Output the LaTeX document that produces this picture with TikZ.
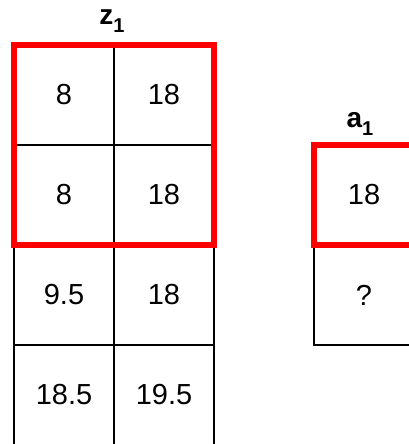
\documentclass[tikz,border=0pt]{standalone}
\usepackage{fontspec}
\setmainfont{Liberation Sans}
\usetikzlibrary{positioning}

\newcommand{\subone}{\raisebox{-8pt}{\fontsize{20}{20}\selectfont 1}}

\begin{document}
\begin{tikzpicture}[x=1pt, y=1pt,
    cell/.style={draw=black, line width=1.6pt, minimum size=100pt,
      inner sep=0pt, outer sep=0pt, font=\fontsize{29}{29}\selectfont},
    hilite/.style={draw=red, line width=6.5pt},
    lbl/.style={font=\fontsize{28}{28}\selectfont\bfseries,
      inner sep=0pt, anchor=base}]
\useasboundingbox (0,0) rectangle (408,444);
%% LEFT: z_1 grid, two columns
\foreach \r/\a/\b in {1/8/18, 2/8/18, 3/9.5/18, 4/18.5/19.5}{
  \node[cell] (z\r1) at (64,{449-100*\r}) {\a};
  \node[cell] (z\r2) at (164,{449-100*\r}) {\b};
}
\draw[hilite] (z11.north west) rectangle (z22.south east);
\node[lbl] (zlab) at (112,419) {z\subone};

%% RIGHT: a_1 column
\node[cell] (a1) at (364,249) {18};
\node[cell] (a2) at (364,149) {?};
\draw[hilite] (a1.north west) rectangle (a1.south east);
\node[lbl] (alab) at (360,316) {a\subone};
\end{tikzpicture}
\end{document}
